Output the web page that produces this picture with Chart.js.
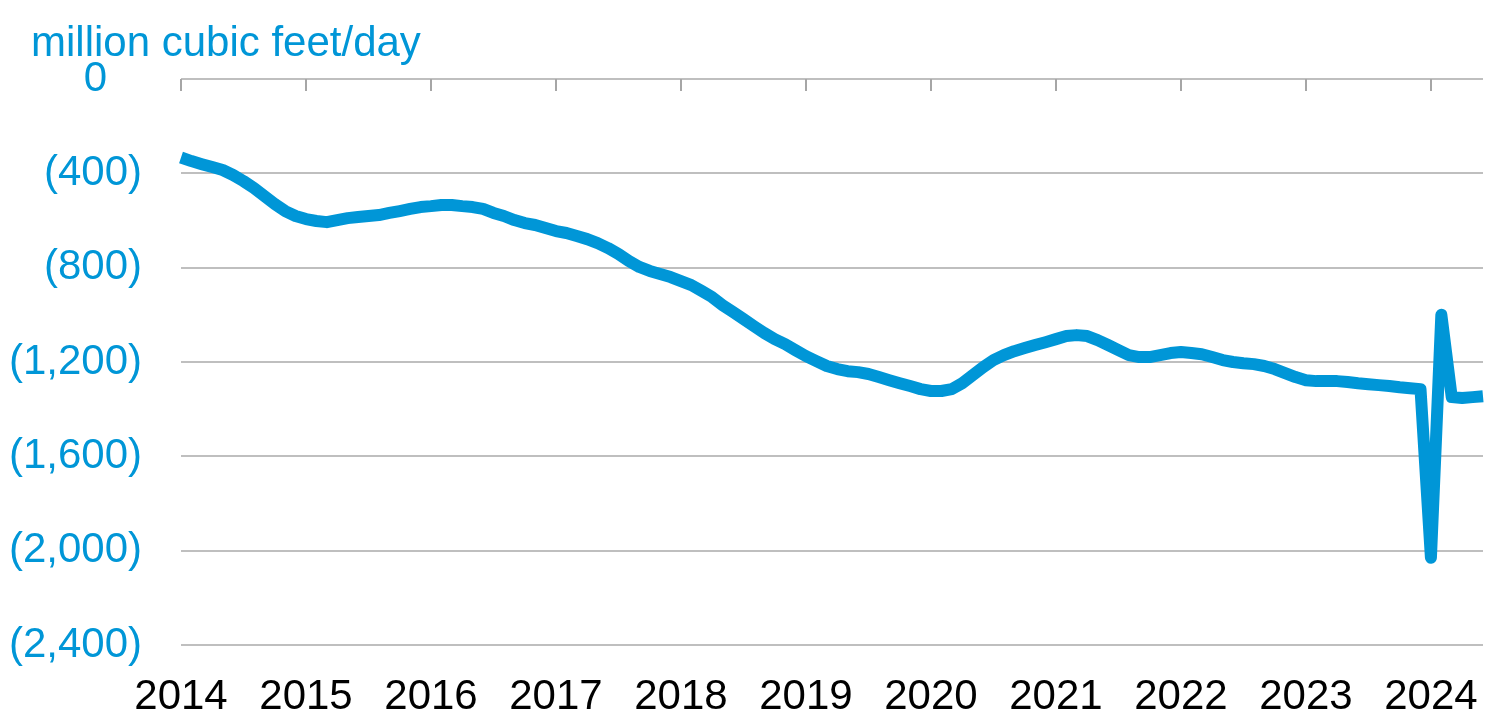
<!DOCTYPE html>
<html>
<head>
<meta charset="utf-8">
<script src="https://cdn.jsdelivr.net/npm/chart.js@4/dist/chart.umd.min.js"></script>
<style>
    html, body { margin: 0; padding: 0; background: #ffffff; }
    .chart-box { width: 1501px; height: 718px; position: relative; }
</style>
</head>
<body>
<div class="chart-box"><canvas id="myChart"></canvas></div>
<script>
// Годы по оси X и месяцы (январь 2014 - июнь 2024)
const years = ["2014", "2015", "2016", "2017", "2018", "2019", "2020", "2021", "2022", "2023", "2024"];
const months = [];
for (let y = 0; y < years.length; y++) {
    for (let m = 1; m <= 12; m++) {
        if (years[y] === "2024" && m > 6) break;
        months.push(years[y] + "-" + String(m).padStart(2, "0"));
    }
}

// Значения, million cubic feet/day
const values2014 = [-333, -348, -361, -373, -386, -407, -433, -462, -496, -530, -560, -581];
const values2015 = [-594, -602, -607, -598, -590, -585, -581, -577, -568, -560, -551, -543];
const values2016 = [-539, -534, -534, -539, -543, -551, -568, -581, -598, -611, -619, -632];
const values2017 = [-645, -653, -666, -679, -696, -717, -742, -772, -797, -814, -827, -840];
const values2018 = [-857, -874, -899, -925, -959, -988, -1018, -1048, -1077, -1103, -1124, -1150];
const values2019 = [-1175, -1196, -1217, -1230, -1239, -1243, -1251, -1264, -1277, -1290, -1302, -1315];
const values2020 = [-1323, -1323, -1315, -1290, -1256, -1222, -1192, -1171, -1154, -1141, -1128, -1116];
const values2021 = [-1103, -1090, -1086, -1090, -1107, -1128, -1150, -1171, -1179, -1179, -1171, -1162];
const values2022 = [-1158, -1162, -1167, -1179, -1192, -1200, -1205, -1209, -1217, -1230, -1247, -1264];
const values2023 = [-1277, -1281, -1281, -1281, -1285, -1290, -1294, -1298, -1302, -1307, -1311, -1315];
const values2024 = [-2030, -1000, -1349, -1353, -1349, -1345];
const flows = [].concat(values2014, values2015, values2016, values2017, values2018, values2019,
    values2020, values2021, values2022, values2023, values2024);

// Подписи оси Y
const yTicks = [0, -400, -800, -1200, -1600, -2000, -2400];
const unitLabel = "million cubic feet/day";

const blue = "#0096D7";
const fontName = "'Liberation Sans', Arial, sans-serif";

// Засечки годов у нулевой линии (направлены вниз)
const yearTicks = {
    id: "yearTicks",
    beforeDatasetsDraw(chart) {
        const ctx = chart.ctx;
        const x = chart.scales.x;
        const top = chart.chartArea.top;
        ctx.save();
        ctx.strokeStyle = "#A6A6A6";
        ctx.lineWidth = 2;
        months.forEach((label, i) => {
            if (label.endsWith("-01")) {
                const px = Math.round(x.getPixelForValue(i));
                ctx.beginPath();
                ctx.moveTo(px, top);
                ctx.lineTo(px, top + 12);
                ctx.stroke();
            }
        });
        ctx.restore();
    }
};

// Единицы измерения над осью
const unitText = {
    id: "unitText",
    afterDraw(chart) {
        const ctx = chart.ctx;
        ctx.save();
        ctx.fillStyle = blue;
        ctx.font = "42px " + fontName;
        ctx.textBaseline = "alphabetic";
        ctx.textAlign = "left";
        ctx.fillText(unitLabel, 31, 56);
        ctx.restore();
    }
};

let ctx = document.getElementById("myChart").getContext("2d");
let chart = new Chart(ctx, {
    type: "line",
    data: {
        labels: months,
        datasets: [{
            label: unitLabel,
            data: flows,
            borderColor: blue,
            backgroundColor: blue,
            borderWidth: 12,
            borderJoinStyle: "round",
            borderCapStyle: "butt",
            pointRadius: 0,
            tension: 0,
            fill: false
        }]
    },
    options: {
        responsive: true,
        maintainAspectRatio: false,
        animation: false,
        devicePixelRatio: 1,
        layout: {
            padding: { top: 79, left: 9, right: 18, bottom: 0 }
        },
        plugins: {
            legend: { display: false },
            title: { display: false },
            tooltip: { enabled: false }
        },
        scales: {
            x: {
                type: "category",
                offset: false,
                grid: { display: false, drawTicks: false },
                border: { display: false },
                afterFit: function(axis) {
                    axis.height = 73;
                    axis.paddingLeft = 0;
                    axis.paddingRight = 0;
                },
                ticks: {
                    autoSkip: false,
                    maxRotation: 0,
                    padding: 31,
                    color: "#000000",
                    font: { family: fontName, size: 42, lineHeight: 1.0 },
                    callback: function(value, index) {
                        const label = months[index];
                        return label.endsWith("-01") ? label.slice(0, 4) : null;
                    }
                }
            },
            y: {
                type: "linear",
                min: -2400,
                max: 0,
                afterBuildTicks: function(axis) {
                    axis.ticks = yTicks.map(v => ({ value: v }));
                },
                afterFit: function(axis) {
                    axis.width = 172;
                },
                grid: {
                    color: "#BFBFBF",
                    lineWidth: 2,
                    drawTicks: false
                },
                border: { display: false },
                ticks: {
                    padding: 39,
                    color: blue,
                    font: { family: fontName, size: 42 },
                    callback: function(value) {
                        if (value === 0) return "0   ";
                        return "(" + Math.abs(value).toLocaleString("en-US") + ")";
                    }
                }
            }
        }
    },
    plugins: [yearTicks, unitText]
});
</script>
</body>
</html>
